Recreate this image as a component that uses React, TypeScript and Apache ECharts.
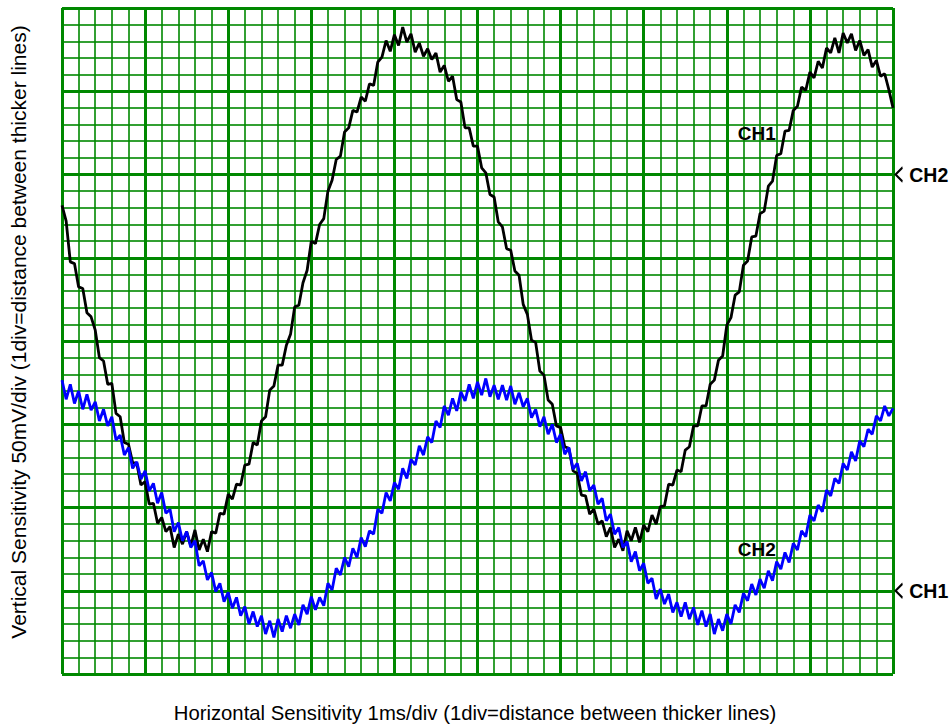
import React, { useEffect, useRef } from "react";
import * as echarts from "echarts";

// Oscilloscope screen: 10 horizontal divisions, 8 vertical divisions (centre = 0)
const X_DIVS = [0, 10];
const Y_DIVS = [-4, 4];
const MINOR_PER_DIV = 5;
// Traces sampled every 0.05 div (201 samples across the screen)
const SAMPLE_STEP_DIV = 0.05;

// CH1 (black) trace, in vertical divisions
const ch1Trace: number[] = [
  1.63, 1.44, 0.95, 0.93, 0.65, 0.63, 0.34, 0.29, 0.13, -0.20,
  -0.24, -0.52, -0.51, -0.87, -0.91, -1.22, -1.24, -1.46, -1.47, -1.73,
  -1.69, -1.96, -1.95, -2.19, -2.12, -2.29, -2.23, -2.48, -2.32, -2.44,
  -2.29, -2.46, -2.27, -2.51, -2.38, -2.53, -2.29, -2.31, -2.07, -2.08,
  -1.84, -1.90, -1.72, -1.73, -1.49, -1.48, -1.22, -1.25, -0.96, -0.91,
  -0.59, -0.54, -0.29, -0.29, -0.05, 0.08, 0.41, 0.43, 0.70, 0.85,
  1.20, 1.17, 1.40, 1.47, 1.80, 1.93, 2.18, 2.22, 2.51, 2.56,
  2.77, 2.75, 2.93, 2.88, 3.09, 3.07, 3.35, 3.41, 3.61, 3.48,
  3.68, 3.55, 3.77, 3.59, 3.69, 3.47, 3.58, 3.42, 3.51, 3.38,
  3.46, 3.23, 3.31, 3.12, 3.18, 2.90, 2.87, 2.56, 2.56, 2.34,
  2.34, 2.08, 2.02, 1.76, 1.73, 1.43, 1.37, 1.11, 1.09, 0.84,
  0.79, 0.44, 0.32, 0.01, -0.02, -0.36, -0.41, -0.71, -0.76, -1.02,
  -1.04, -1.27, -1.29, -1.56, -1.59, -1.85, -1.86, -2.08, -2.02, -2.20,
  -2.16, -2.35, -2.24, -2.48, -2.38, -2.52, -2.28, -2.40, -2.24, -2.42,
  -2.21, -2.29, -2.09, -2.20, -1.99, -1.98, -1.72, -1.73, -1.55, -1.57,
  -1.31, -1.27, -1.02, -1.02, -0.78, -0.78, -0.52, -0.47, -0.23, -0.18,
  0.19, 0.28, 0.55, 0.59, 0.91, 0.96, 1.25, 1.26, 1.53, 1.56,
  1.86, 1.92, 2.23, 2.25, 2.52, 2.53, 2.77, 2.82, 3.05, 3.01,
  3.23, 3.16, 3.36, 3.28, 3.52, 3.46, 3.64, 3.46, 3.70, 3.58,
  3.69, 3.49, 3.61, 3.43, 3.50, 3.29, 3.37, 3.18, 3.21, 3.02, 2.80,
];

// CH2 (blue) trace, in vertical divisions
const ch2Trace: number[] = [
  -0.47, -0.70, -0.52, -0.75, -0.60, -0.82, -0.64, -0.83, -0.73, -0.96,
  -0.82, -1.02, -0.91, -1.19, -1.13, -1.37, -1.28, -1.53, -1.45, -1.66,
  -1.56, -1.80, -1.71, -1.95, -1.82, -2.07, -2.02, -2.29, -2.18, -2.40,
  -2.29, -2.48, -2.40, -2.70, -2.64, -2.87, -2.78, -3.01, -2.91, -3.13,
  -3.02, -3.21, -3.08, -3.30, -3.19, -3.40, -3.25, -3.43, -3.30, -3.52,
  -3.36, -3.56, -3.34, -3.49, -3.30, -3.45, -3.28, -3.41, -3.17, -3.28,
  -3.07, -3.23, -3.08, -3.18, -2.91, -2.99, -2.73, -2.81, -2.60, -2.71,
  -2.49, -2.60, -2.36, -2.47, -2.28, -2.32, -2.02, -2.07, -1.82, -1.92,
  -1.70, -1.78, -1.53, -1.65, -1.42, -1.49, -1.26, -1.37, -1.15, -1.22,
  -0.96, -1.04, -0.78, -0.89, -0.69, -0.84, -0.61, -0.72, -0.52, -0.69,
  -0.49, -0.65, -0.45, -0.67, -0.53, -0.70, -0.53, -0.71, -0.54, -0.76,
  -0.62, -0.79, -0.69, -0.92, -0.82, -1.03, -0.91, -1.12, -1.00, -1.22,
  -1.12, -1.36, -1.28, -1.54, -1.47, -1.68, -1.57, -1.80, -1.73, -1.96,
  -1.89, -2.16, -2.08, -2.32, -2.24, -2.48, -2.41, -2.65, -2.53, -2.76,
  -2.67, -2.91, -2.85, -3.10, -2.98, -3.16, -3.04, -3.26, -3.14, -3.31,
  -3.14, -3.34, -3.20, -3.41, -3.24, -3.43, -3.28, -3.52, -3.34, -3.48,
  -3.28, -3.40, -3.17, -3.26, -3.03, -3.12, -2.92, -3.05, -2.86, -2.97,
  -2.76, -2.88, -2.65, -2.74, -2.54, -2.66, -2.43, -2.51, -2.28, -2.35,
  -2.09, -2.16, -1.97, -2.05, -1.79, -1.86, -1.65, -1.71, -1.47, -1.55,
  -1.33, -1.44, -1.20, -1.27, -1.06, -1.12, -0.90, -0.96, -0.78, -0.90, -0.81,
];

// In-screen channel labels: [x div, y div, text]
const traceLabels: [number, number, string][] = [
  [8.36, 2.49, "CH1"],
  [8.36, -2.5, "CH2"],
];

// Ground reference markers on the right edge: [x div, y div, text]
const groundMarkers: [number, number, string][] = [
  [10, 2, "CH2"],
  [10, -3, "CH1"],
];

const X_TITLE = "Horizontal Sensitivity 1ms/div (1div=distance between thicker lines)";
const Y_TITLE = "Vertical Sensitivity 50mV/div (1div=distance between thicker lines)";

const FONT = '"Liberation Sans", Arial, Helvetica, sans-serif';
const GREEN = "#008800";

function axisCommon(min: number, max: number) {
  return {
    type: "value" as const,
    min,
    max,
    interval: 1,
    axisLine: { show: false },
    axisTick: { show: false },
    axisLabel: { show: false },
    splitLine: { show: true, lineStyle: { color: GREEN, width: 3 } },
    minorTick: { show: false, splitNumber: MINOR_PER_DIV },
    minorSplitLine: { show: true, lineStyle: { color: GREEN, width: 2, opacity: 0.8 } },
  };
}

export default function App() {
  const ref = useRef<HTMLDivElement>(null);

  useEffect(() => {
    if (!ref.current) return;
    const chart = echarts.init(ref.current, undefined, { renderer: "svg" });
    const ch1Data = ch1Trace.map((v, i) => [i * SAMPLE_STEP_DIV, v]);
    const ch2Data = ch2Trace.map((v, i) => [i * SAMPLE_STEP_DIV, v]);

    const labelStyle = {
      show: true,
      formatter: (p: any) => p.data[2],
      fontWeight: "bold" as const,
      fontFamily: FONT,
      color: "#000000",
      opacity: 1,
      textBorderWidth: 0,
    };

    chart.setOption({
      animation: false,
      backgroundColor: "#ffffff",
      textStyle: { fontFamily: FONT },
      grid: { left: 62, top: 8, width: 831, height: 666, outerBoundsMode: "none" },
      xAxis: axisCommon(X_DIVS[0], X_DIVS[1]),
      yAxis: axisCommon(Y_DIVS[0], Y_DIVS[1]),
      graphic: [
        {
          type: "text",
          x: 475,
          y: 713,
          style: {
            text: X_TITLE,
            fontSize: 20.3,
            fontFamily: FONT,
            fill: "#000",
            align: "center",
            verticalAlign: "middle",
          },
        },
        {
          type: "text",
          x: 18,
          y: 332,
          rotation: Math.PI / 2,
          style: {
            text: Y_TITLE,
            fontSize: 21,
            fontFamily: FONT,
            fill: "#000",
            align: "center",
            verticalAlign: "middle",
          },
        },
      ],
      series: [
        {
          type: "line",
          name: "CH1",
          data: ch1Data,
          symbol: "none",
          showSymbol: false,
          lineStyle: { color: "#000000", width: 2.8 },
          z: 3,
        },
        {
          type: "line",
          name: "CH2",
          data: ch2Data,
          symbol: "none",
          showSymbol: false,
          lineStyle: { color: "#0000ff", width: 2.8 },
          z: 4,
        },
        {
          type: "scatter",
          data: traceLabels,
          symbol: "circle",
          symbolSize: 1,
          itemStyle: { color: "#ffffff", opacity: 0 },
          silent: true,
          z: 6,
          label: {
            ...labelStyle,
            position: "inside",
            fontSize: 19,
          },
        },
        {
          type: "scatter",
          data: groundMarkers,
          clip: false,
          symbol: "path://M10,0L0,10L10,20",
          symbolSize: [7, 14],
          symbolOffset: [6, 0],
          symbolKeepAspect: false,
          itemStyle: { color: "none", borderColor: "#000", borderWidth: 1.8, opacity: 1 },
          silent: true,
          z: 6,
          label: {
            ...labelStyle,
            position: "right",
            distance: 5,
            fontSize: 19.5,
          },
        },
      ],
    });

    return () => chart.dispose();
  }, []);

  return (
    <div
      ref={ref}
      style={{ position: "fixed", left: 0, top: 0, width: 949, height: 725, background: "#fff" }}
    />
  );
}
